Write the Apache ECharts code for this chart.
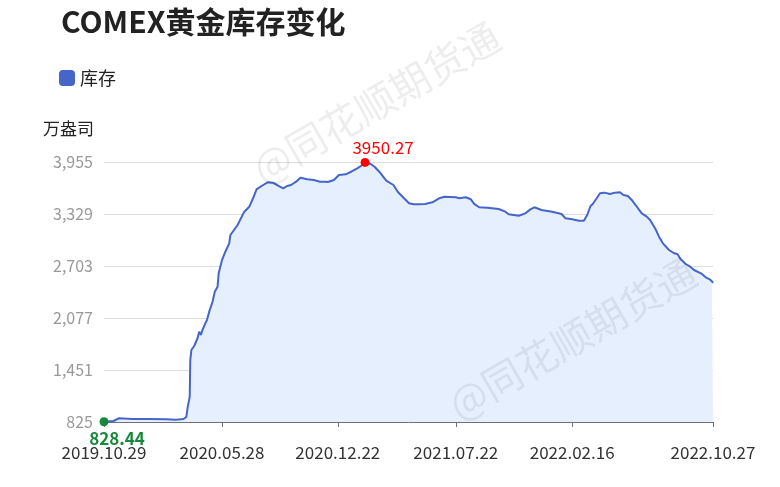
<!DOCTYPE html>
<html>
<head>
<meta charset="utf-8">
<title>COMEX黄金库存变化</title>
<script src="https://cdn.jsdelivr.net/npm/echarts@6/dist/echarts.min.js"></script>
<style>
  html, body { margin: 0; padding: 0; background: #fff; }
  #chart { width: 780px; height: 487px; }
</style>
</head>
<body>
<div id="chart"></div>
<script>
// Observation dates of COMEX gold stocks
const dates = [
  '2019-10-29','2019-11-15','2019-11-25','2019-12-19','2020-01-17','2020-02-17','2020-03-06','2020-03-20',
  '2020-03-25','2020-03-27','2020-03-31','2020-04-01','2020-04-03','2020-04-08','2020-04-14','2020-04-17',
  '2020-04-20','2020-04-23','2020-04-28','2020-05-01','2020-05-05','2020-05-11','2020-05-15','2020-05-20',
  '2020-05-22','2020-05-28','2020-06-03','2020-06-10','2020-06-12','2020-06-25','2020-07-07','2020-07-16',
  '2020-07-24','2020-07-29','2020-07-31','2020-08-07','2020-08-18','2020-08-27','2020-09-04','2020-09-15',
  '2020-09-22','2020-09-29','2020-10-08','2020-10-16','2020-10-28','2020-11-09','2020-11-20','2020-11-30',
  '2020-12-04','2020-12-15','2020-12-24','2021-01-05','2021-01-15','2021-01-26','2021-02-04','2021-02-09',
  '2021-02-19','2021-02-26','2021-03-09','2021-03-19','2021-04-01','2021-04-09','2021-04-20','2021-04-29',
  '2021-05-07','2021-05-17','2021-05-28','2021-06-10','2021-06-22','2021-07-02','2021-07-22','2021-07-28',
  '2021-08-09','2021-08-18','2021-08-24','2021-09-02','2021-09-17','2021-10-07','2021-10-19','2021-10-25',
  '2021-11-12','2021-11-24','2021-12-03','2021-12-10','2021-12-23','2022-01-11','2022-01-28','2022-02-04',
  '2022-02-16','2022-02-28','2022-03-09','2022-03-15','2022-03-21','2022-03-25','2022-04-01','2022-04-07',
  '2022-04-15','2022-04-25','2022-05-04','2022-05-13','2022-05-19','2022-05-27','2022-06-03','2022-06-10',
  '2022-06-21','2022-06-30','2022-07-06','2022-07-15','2022-07-22','2022-07-29','2022-08-09','2022-08-18',
  '2022-08-24','2022-08-30','2022-09-08','2022-09-16','2022-09-23','2022-10-07','2022-10-14','2022-10-21',
  '2022-10-25','2022-10-27'
];

// Stock level, 万盎司
const stocks = [
  828.44, 837, 870, 861, 861, 857, 853, 861,
  889, 990, 1130, 1571, 1692, 1740, 1833, 1912,
  1872, 1933, 2013, 2053, 2153, 2273, 2394, 2454,
  2615, 2775, 2875, 2976, 3076, 3197, 3357, 3417,
  3537, 3626, 3638, 3666, 3710, 3706, 3678, 3638,
  3666, 3678, 3718, 3766, 3747, 3738, 3718, 3718,
  3714, 3738, 3798, 3807, 3838, 3879, 3919, 3950.27,
  3931, 3898, 3819, 3730, 3678, 3594, 3518, 3458,
  3446, 3446, 3450, 3470, 3518, 3537, 3530, 3518,
  3530, 3506, 3450, 3410, 3405, 3389, 3357, 3325,
  3308, 3337, 3385, 3410, 3377, 3357, 3329, 3277,
  3265, 3248, 3248, 3317, 3425, 3450, 3518, 3578,
  3586, 3570, 3586, 3590, 3558, 3546, 3498, 3437,
  3337, 3297, 3257, 3157, 3056, 2976, 2896, 2856,
  2848, 2784, 2727, 2695, 2655, 2607, 2567, 2543,
  2520, 2497
];

// Axis ticks
const xTickDates = ['2019-10-29', '2020-05-28', '2020-12-22', '2021-07-22', '2022-02-16', '2022-10-27'];
const yTickValues = [825, 1451, 2077, 2703, 3329, 3955];

const seriesName = '库存';
const FONT = '"Noto Sans CJK SC", "Noto Sans", sans-serif';

// 'YYYY-MM-DD' -> local timestamp
function toTime(s) {
  const p = s.split('-').map(Number);
  return new Date(p[0], p[1] - 1, p[2]).getTime();
}
function fmtDate(t) {
  const d = new Date(t);
  const pad = (n) => (n < 10 ? '0' : '') + n;
  return d.getFullYear() + '.' + pad(d.getMonth() + 1) + '.' + pad(d.getDate());
}

const xTicks = xTickDates.map(toTime);

const chart = echarts.init(document.getElementById('chart'), null, { renderer: 'canvas' });

const watermark = (x, y) => ({
  type: 'text',
  x: x,
  y: y,
  rotation: Math.PI / 6,
  silent: true,
  z: 100,
  style: {
    text: '@同花顺期货通',
    font: '40px ' + FONT,
    fill: 'rgba(0,0,0,0.07)',
    textVerticalAlign: 'middle'
  }
});

chart.setOption({
  animation: false,
  textStyle: { fontFamily: FONT },
  title: {
    text: 'COMEX黄金库存变化',
    left: 56,
    top: 2,
    textStyle: { fontSize: 30, fontWeight: 'bold', color: '#222', fontFamily: FONT }
  },
  legend: {
    left: 54,
    top: 64,
    icon: 'roundRect',
    itemWidth: 16,
    itemHeight: 16,
    itemGap: 10,
    textStyle: { fontSize: 18, color: '#222' },
    data: [seriesName]
  },
  grid: { left: 104, right: 67, top: 162, bottom: 65 },
  xAxis: {
    type: 'value',
    min: xTicks[0],
    max: xTicks[xTicks.length - 1],
    axisLine: { show: true, lineStyle: { color: '#6e7079' } },
    axisTick: { show: true, length: 5, customValues: xTicks, lineStyle: { color: '#6e7079' } },
    splitLine: { show: false },
    axisLabel: {
      customValues: xTicks,
      color: '#333',
      fontSize: 17,
      margin: 22,
      hideOverlap: false,
      formatter: (v) => fmtDate(v)
    }
  },
  yAxis: {
    type: 'value',
    min: yTickValues[0],
    max: yTickValues[yTickValues.length - 1],
    name: '万盎司',
    nameLocation: 'end',
    nameGap: 33,
    nameTextStyle: { fontSize: 17, color: '#222', align: 'right', verticalAlign: 'middle', padding: [0, 10, 0, 0] },
    axisLine: { show: false },
    axisTick: { show: false, customValues: yTickValues },
    splitLine: { show: true, lineStyle: { color: '#dcdcdc' } },
    axisLabel: {
      customValues: yTickValues,
      color: '#999',
      fontSize: 16,
      margin: 11,
      formatter: (v) => v.toLocaleString('en-US')
    }
  },
  graphic: [watermark(256, 172), watermark(452, 408)],
  series: [{
    name: seriesName,
    type: 'line',
    data: dates.map((d, i) => [toTime(d), stocks[i]]),
    showSymbol: false,
    symbol: 'circle',
    color: '#4565c8',
    lineStyle: { width: 2, color: '#4565c8' },
    areaStyle: { color: '#e6effd', opacity: 1 },
    markPoint: {
      symbol: 'circle',
      symbolSize: 9,
      data: [
        {
          type: 'max',
          itemStyle: { color: '#ff0000' },
          label: { show: true, position: 'top', distance: 4, offset: [18, 2], color: '#ff0000', fontSize: 17, formatter: (p) => p.value }
        },
        {
          type: 'min',
          itemStyle: { color: '#17893a' },
          label: { show: true, position: 'bottom', distance: 4, offset: [13, 0], color: '#17893a', fontSize: 17, fontWeight: 'bold', formatter: (p) => p.value }
        }
      ]
    }
  }]
});
</script>
</body>
</html>
